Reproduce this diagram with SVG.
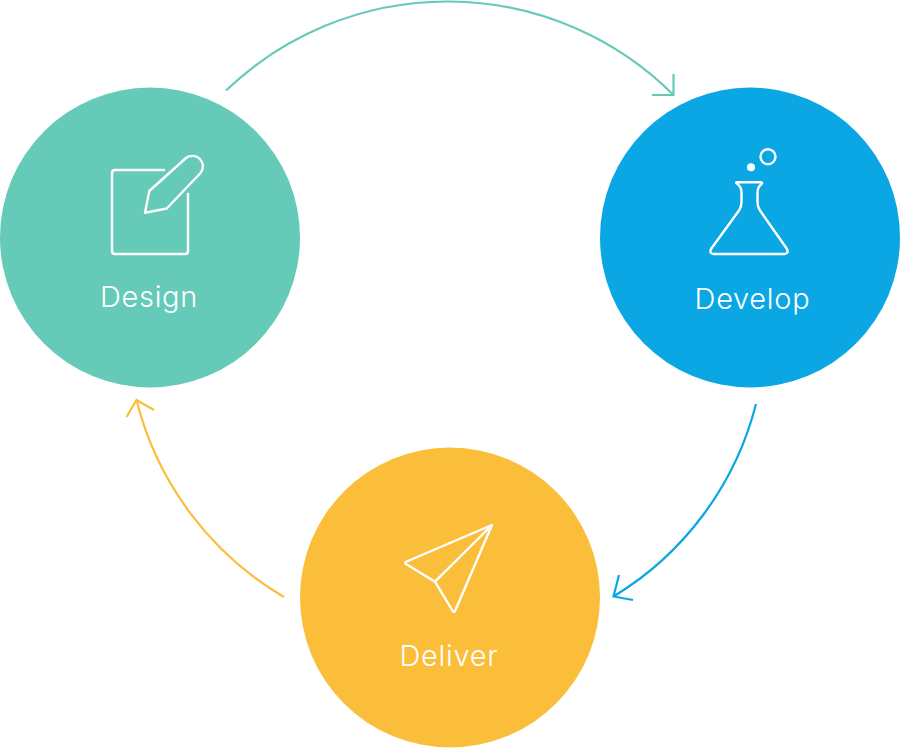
<svg xmlns="http://www.w3.org/2000/svg" width="900" height="750" viewBox="0 0 900 750">
<style>
.ic{fill:none;stroke:#fff;stroke-width:2.400;stroke-linejoin:round;stroke-linecap:round}
.lb{font-family:"Inter","Open Sans",sans-serif;font-weight:300;font-size:29px;letter-spacing:0.700px;fill:#fff;text-anchor:middle}
.c{fill:none;stroke-width:2.200}
</style>
<rect width="900" height="750" fill="#fff"/>
<g id="connectors">
<path class="c" stroke="#66cab9" d="M226 90.500A320 320 0 0 1 673.500 95M673.500 74V95H652"/>
<path class="c" stroke="#0aa7e4" d="M756 404A316 316 0 0 1 613.500 596.500M619 575L613.500 596.500L633 600"/>
<path class="c" stroke="#fabe3b" d="M284 597A318 318 0 0 1 136.500 400M126.500 417L136.500 400L154 410"/>
</g>
<g id="design">
<circle cx="150" cy="237.500" r="150" fill="#66cab9"/>
<path class="ic" d="M164 170H115Q112 170 112 173V251Q112 254 115 254H185Q188 254 188 251V194"/>
<path class="ic" d="M145 212.700L149.300 191L186 158A10.500 10.500 0 0 1 200.500 173L166.700 208.500Z"/>
<text class="lb" x="149" y="306.500">Design</text>
</g>
<g id="develop">
<circle cx="750" cy="237.500" r="150" fill="#0aa7e4"/>
<circle class="ic" cx="768" cy="156.700" r="7.500"/>
<circle cx="751" cy="167.300" r="4" fill="#fff"/>
<path class="ic" d="M737 182.300H761Q763 182.500 761.500 184Q757.500 187 757.500 193V202Q757.500 207 760 210.500L787 249Q789 254 784 254H714Q709 254 711 249L739 210.500Q741.500 207 741.500 202V193Q741.500 187 737.500 184Q735 182.500 737 182.300Z"/>
<text class="lb" x="752.500" y="309">Develop</text>
</g>
<g id="deliver">
<circle cx="450" cy="597.500" r="150" fill="#fabe3b"/>
<path class="ic" d="M492 525L405.500 562Q404.500 563 406 564L435 581.700L453 611.500Q454 612.500 455 611Z"/>
<path class="ic" d="M492 525L435 581.700"/>
<text class="lb" x="449" y="666">Deliver</text>
</g>
</svg>
